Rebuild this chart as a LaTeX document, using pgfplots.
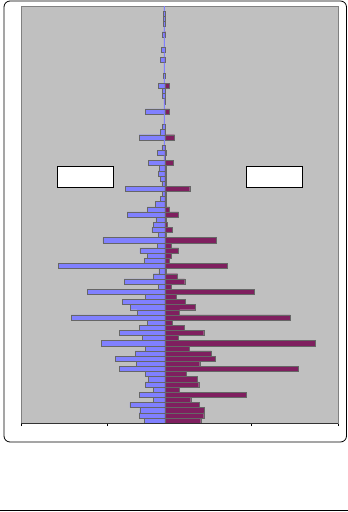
\documentclass[border=0pt]{standalone}
\usepackage{pgfplots}
\usepackage{pgfplotstable}
\pgfplotsset{compat=1.18}
\definecolor{mblue}{RGB}{128,128,255}
\definecolor{fpurp}{RGB}{127,31,95}
\definecolor{bggray}{RGB}{192,192,192}
\definecolor{frgray}{RGB}{128,128,128}
\pgfplotstableread{
y m t f
1 -62 nan 107
2 -77 nan 116
3 -75 nan 118
4 -105 nan 102
5 -35 nan 77
6 -77 nan 243
7 -35 nan 44
8 -59 nan 101
9 -50 nan 96
10 -58 nan 64
11 -136 nan 398
12 -86 nan 104
13 -148 nan 151
14 -89 nan 139
15 -58 nan 72
16 -191 nan 450
17 -68 nan 41
18 -136 nan 116
19 -77 nan 57
20 -53 nan 21
21 -281 nan 375
22 -83 nan 44
23 -104 nan 90
24 -127 nan 60
25 -59 nan 33
26 -233 nan 266
27 -20 nan 20
28 -122 nan 59
29 -35 nan 38
30 -18 nan 4
31 -320 nan 185
32 -62 nan 14
33 -53 nan 20
34 -75 nan 41
35 -23 nan 20
36 -186 nan 154
37 -20 nan 4
38 -39 nan 23
39 -34 nan 8
40 -27 nan 4
41 -113 nan 41
42 -53 nan 14
43 -29 nan 4
44 -13 nan 5
45 -8 nan 4
46 -119 nan 74
47 -9 nan 4
48 -14 nan 5
49 -20 nan 5
50 -17 nan 5
51 -50 nan 26
52 nan -3 2
53 -23 nan 5
54 -9 nan 2
55 nan -3 nan
56 -77 nan 29
57 -14 nan 2
58 -8 nan nan
59 nan -3 nan
60 nan -3 nan
61 -59 nan 14
62 nan -3 nan
63 nan -3 2
64 -8 nan nan
65 -8 nan nan
66 -20 nan 14
67 nan -3 nan
68 -4 nan nan
69 nan -3 nan
70 nan -3 nan
71 -14 nan 2
72 nan -3 nan
73 -11 nan nan
74 nan -3 nan
75 nan -3 nan
76 -8 nan 2
77 nan -3 nan
78 -4 nan nan
79 -4 nan nan
80 -5 nan nan
81 nan -3 nan
}\pyr
\begin{document}
\begin{tikzpicture}
\path[use as bounding box] (0,0) rectangle (348pt,512pt);
\draw[black, line width=0.8pt, rounded corners=6pt] (4pt,70pt) rectangle (346.5pt,511pt);
\draw[black, line width=0.8pt] (0,2pt) -- (348pt,2pt);
\begin{axis}[
  at={(21pt,89pt)}, anchor=south west,
  width=317pt, height=417pt, scale only axis,
  xmin=-431, xmax=518, ymin=0.5, ymax=81.5,
  axis background/.style={fill=bggray},
  axis line style={draw=frgray, line width=0.6pt},
  xtick={-431,-173,259,518}, xticklabels={},
  ytick=\empty,
  xtick pos=left, tick align=outside,
  major tick length=3pt,
  tick style={black, line width=0.5pt},
  unbounded coords=discard,
  clip=false,
]
\addplot[xbar, bar width=1, bar shift=0pt, fill=mblue, draw=black!60, line width=0.35pt] table[x=m, y=y] {\pyr};
\addplot[xbar, bar width=1, bar shift=0pt, fill=mblue, draw=none] table[x=t, y=y] {\pyr};
\addplot[xbar, bar width=1, bar shift=0pt, fill=fpurp, draw=black!60, line width=0.35pt] table[x=f, y=y] {\pyr};
\draw[black!80, line width=0.6pt] (rel axis cs:0,0) -- (rel axis cs:1,0);
\end{axis}
\draw[black, line width=0.6pt, fill=white] (57pt,325pt) rectangle (113pt,346pt);
\draw[black, line width=0.6pt, fill=white] (246pt,325pt) rectangle (302pt,346pt);
\end{tikzpicture}
\end{document}
